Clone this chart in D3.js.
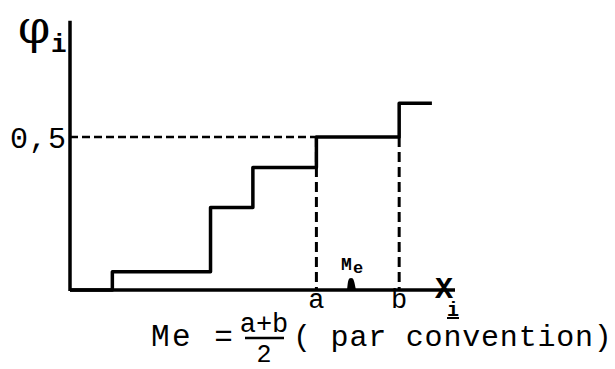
<!DOCTYPE html>
<html lang="fr">
  <head>
    <meta charset="UTF-8" />
    <title>Médiane</title>
    <style>
      body { margin: 0; background: #fff; }
      text { font-family: "Liberation Mono", "DejaVu Sans Mono", monospace; fill: #000; }
    </style>
  </head>
  <body>
    <svg id="container" width="615" height="369"></svg>
  </body>
  <script src="https://cdn.jsdelivr.net/npm/d3@7"></script>
  <script>
    // step points of the cumulative distribution (x in arbitrary units)
    let stepX = [0, 1.1, 3.65, 4.75, 6.4, 8.55, 9.4];
    let stepY = [0, 0.06, 0.27, 0.4, 0.5, 0.61, 0.61];
    let halfLevel = 0.5;
    let aX = 6.4, bX = 8.55, meX = 7.3;
    let xLabels = ["a", "b"];

    let svg = d3.select("#container");
    let x = d3.scaleLinear().domain([0, 10]).range([70, 455]);
    let y = d3.scaleLinear().domain([0, 0.5]).range([290, 137]);

    // axes
    svg.append("line").attr("x1", x(0)).attr("x2", x(0)).attr("y1", y(0) + 1).attr("y2", y(0.88))
      .attr("stroke", "#000").attr("stroke-width", 3.5);
    svg.append("line").attr("x1", x(0)).attr("x2", x(10)).attr("y1", y(0)).attr("y2", y(0))
      .attr("stroke", "#000").attr("stroke-width", 3.5);

    // dashed guides
    svg.append("line").attr("x1", x(0)).attr("x2", x(aX)).attr("y1", y(halfLevel)).attr("y2", y(halfLevel))
      .attr("stroke", "#000").attr("stroke-width", 2.5).attr("stroke-dasharray", "8,4");
    svg.selectAll(".guide").data([aX, bX]).enter().append("line")
      .attr("x1", d => x(d)).attr("x2", d => x(d))
      .attr("y1", y(halfLevel)).attr("y2", y(0))
      .attr("stroke", "#000").attr("stroke-width", 3).attr("stroke-dasharray", "10,5");

    // step function
    let pts = stepX.map((d, i) => [d, stepY[i]]);
    let line = d3.line().x(d => x(d[0])).y(d => y(d[1])).curve(d3.curveStepAfter);
    svg.append("path").datum(pts).attr("d", line)
      .attr("fill", "none").attr("stroke", "#000").attr("stroke-width", 3.5).attr("stroke-linejoin", "round");

    // median bump
    let mx = x(meX);
    svg.append("path")
      .attr("d", `M${mx - 4},${y(0)} C${mx - 3},${y(0) - 9} ${mx - 3},${y(0) - 12} ${mx},${y(0) - 12} C${mx + 3},${y(0) - 12} ${mx + 3},${y(0) - 9} ${mx + 5},${y(0)} Z`)
      .attr("fill", "#000");
    svg.append("text").attr("x", mx - 10).attr("y", y(0) - 20).attr("font-size", 18).attr("font-weight", "bold").text("M");
    svg.append("text").attr("x", mx + 2).attr("y", y(0) - 17).attr("font-size", 17).attr("font-weight", "bold").text("e");

    // labels
    svg.selectAll(".xl").data([aX, bX]).enter().append("text")
      .attr("x", d => x(d)).attr("y", y(0) + 18).attr("text-anchor", "middle")
      .attr("font-size", 27).text((d, i) => xLabels[i]);
    svg.append("text").attr("x", 435).attr("y", 298).attr("font-size", 30).attr("font-weight", "bold").text("X");
    svg.append("text").attr("x", 447).attr("y", 316).attr("font-size", 20).attr("font-weight", "bold")
      .attr("text-decoration", "underline").text("i");

    svg.append("text").attr("x", 10).attr("y", y(halfLevel) + 11).attr("font-size", 30).attr("letter-spacing", 1).text("0,5");
    svg.append("text").attr("x", 18).attr("y", 43).attr("font-size", 46)
      .style("font-family", "DejaVu Serif").text("φ");
    svg.append("text").attr("x", 51).attr("y", 52).attr("font-size", 26).attr("font-weight", "bold").text("i");

    // formula
    svg.append("text").attr("x", 151).attr("y", 346).attr("font-size", 31).attr("letter-spacing", 2.5).text("Me = ");
    svg.append("text").attr("x", 264).attr("y", 332).attr("font-size", 27).attr("text-anchor", "middle").text("a+b");
    svg.append("line").attr("x1", 245).attr("x2", 284).attr("y1", 338).attr("y2", 338)
      .attr("stroke", "#000").attr("stroke-width", 2.5);
    svg.append("text").attr("x", 264).attr("y", 362).attr("font-size", 25).attr("text-anchor", "middle").text("2");
    svg.append("text").attr("x", 293).attr("y", 346).attr("font-size", 30).attr("letter-spacing", 0.8).text("( par convention)");
  </script>
</html>
